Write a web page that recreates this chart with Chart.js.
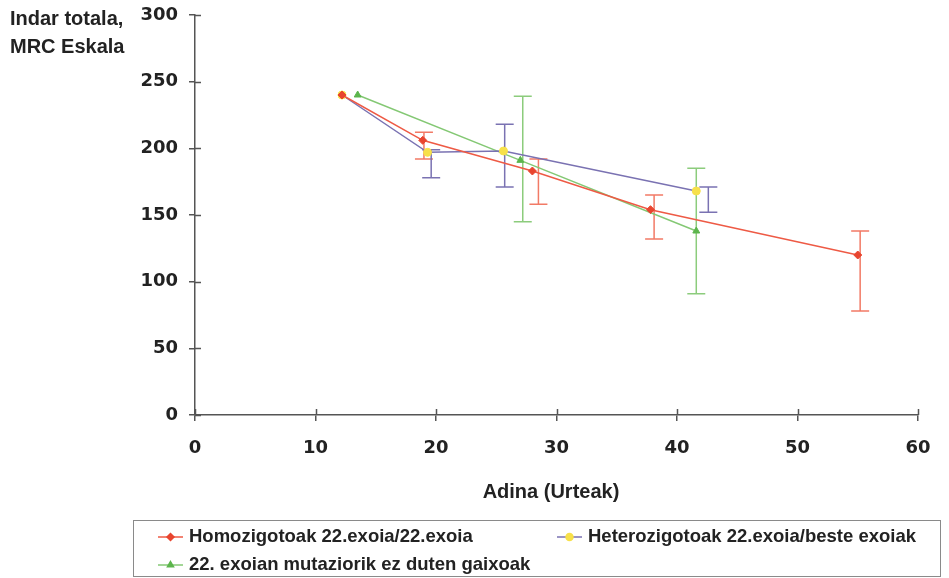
<!DOCTYPE html>
<html>
<head>
<meta charset="utf-8">
<script src="https://cdn.jsdelivr.net/npm/chart.js@4.4.1/dist/chart.umd.min.js"></script>
<style>
    html, body { margin: 0; padding: 0; background: #fff; }
    #wrap { width: 949px; height: 578px; position: relative; }
</style>
</head>
<body>
<div id="wrap"><canvas id="gene"></canvas></div>
<script>
// Data
var xTicks = [0, 10, 20, 30, 40, 50, 60];
var yTicks = [0, 50, 100, 150, 200, 250, 300];

var homoLabel = 'Homozigotoak 22.exoia/22.exoia';
var homoAge   = [12.2, 18.9, 28.0, 37.8, 55.0];
var homoVal   = [240, 206, 183, 154, 120];
var homoErrX  = [null, 19.0, 28.5, 38.1, 55.2];
var homoLow   = [null, 192, 158, 132, 78];
var homoHigh  = [null, 212, 192, 165, 138];

var heteroLabel = 'Heterozigotoak 22.exoia/beste exoiak';
var heteroAge   = [12.2, 19.3, 25.6, 41.6];
var heteroVal   = [240, 197, 198, 168];
var heteroErrX  = [null, 19.6, 25.7, 42.6];
var heteroLow   = [null, 178, 171, 152];
var heteroHigh  = [null, 199, 218, 171];

var noneLabel = '22. exoian mutaziorik ez duten gaixoak';
var noneAge   = [13.5, 27.0, 41.6];
var noneVal   = [240, 191, 138];
var noneErrX  = [null, 27.2, 41.6];
var noneLow   = [null, 145, 91];
var noneHigh  = [null, 239, 185];

var SANS = '"Liberation Sans", Arial, sans-serif';
var TITLE_FONT = 'bold 20px ' + SANS;
var LEGEND_FONT = 'bold 18.5px ' + SANS;
var TICK_FONT = { size: 18, weight: 'bold', family: '"DejaVu Sans", sans-serif' };
var TXT = '#222';
var AXIS = '#555';

function pts(xs, ys) {
    return xs.map(function (x, i) { return { x: x, y: ys[i] }; });
}

var series = [
    { label: homoLabel, data: pts(homoAge, homoVal), line: '#ee5a45', err: '#f27a66',
      marker: 'rectRot', fill: '#e8452f', errX: homoErrX, low: homoLow, high: homoHigh },
    { label: heteroLabel, data: pts(heteroAge, heteroVal), line: '#7a72b2', err: '#7a72b2',
      marker: 'circle', fill: '#f7e04a', errX: heteroErrX, low: heteroLow, high: heteroHigh },
    { label: noneLabel, data: pts(noneAge, noneVal), line: '#84c874', err: '#8ccc7c',
      marker: 'triangle', fill: '#5cb54c', errX: noneErrX, low: noneLow, high: noneHigh }
];

// error bars with caps
var errorBars = {
    id: 'errorBars',
    beforeDatasetsDraw: function (chart) {
        var ctx = chart.ctx, xs = chart.scales.x, ys = chart.scales.y;
        ctx.save();
        ctx.lineWidth = 1.5;
        series.forEach(function (s) {
            ctx.strokeStyle = s.err;
            s.errX.forEach(function (ex, i) {
                if (ex === null) return;
                var px = xs.getPixelForValue(ex);
                var top = ys.getPixelForValue(s.high[i]);
                var bot = ys.getPixelForValue(s.low[i]);
                ctx.beginPath();
                ctx.moveTo(px, top); ctx.lineTo(px, bot);
                ctx.moveTo(px - 9, top); ctx.lineTo(px + 9, top);
                ctx.moveTo(px - 9, bot); ctx.lineTo(px + 9, bot);
                ctx.stroke();
            });
        });
        ctx.restore();
    }
};

// inner half of the tick marks, titles and boxed legend
var decorations = {
    id: 'decorations',
    afterDraw: function (chart) {
        var ctx = chart.ctx, xs = chart.scales.x, ys = chart.scales.y;
        var a = chart.chartArea;
        ctx.save();
        ctx.strokeStyle = AXIS;
        ctx.lineWidth = 1.5;
        ctx.beginPath();
        xTicks.forEach(function (v) {
            var px = Math.round(xs.getPixelForValue(v)) + 0.5;
            ctx.moveTo(px, a.bottom); ctx.lineTo(px, a.bottom - 6);
        });
        yTicks.forEach(function (v) {
            var py = Math.round(ys.getPixelForValue(v)) + 0.5;
            ctx.moveTo(a.left, py); ctx.lineTo(a.left + 6, py);
        });
        ctx.stroke();

        ctx.fillStyle = TXT;
        ctx.font = TITLE_FONT;
        ctx.textBaseline = 'middle';
        ctx.textAlign = 'left';
        ctx.fillText('Indar totala,', 10, 19);
        ctx.fillText('MRC Eskala', 10, 47);
        ctx.textAlign = 'center';
        ctx.fillText('Adina (Urteak)', 551, 492);

        // legend box
        ctx.strokeStyle = '#8a8a8a';
        ctx.lineWidth = 1;
        ctx.strokeRect(133.5, 520.5, 807, 56);
        ctx.font = LEGEND_FONT;
        var spots = [[158, 537], [557, 537], [158, 565]];
        series.forEach(function (s, i) {
            var x = spots[i][0], y = spots[i][1];
            ctx.strokeStyle = s.line;
            ctx.lineWidth = 1.5;
            ctx.beginPath();
            ctx.moveTo(x, y); ctx.lineTo(x + 25, y);
            ctx.stroke();
            ctx.fillStyle = s.fill;
            ctx.strokeStyle = s.fill;
            Chart.helpers.drawPoint(ctx, { pointStyle: s.marker, radius: 3.5, borderWidth: 1 }, x + 12.5, y);
            ctx.fillStyle = TXT;
            ctx.textAlign = 'left';
            ctx.fillText(s.label, x + 31, y);
        });
        ctx.restore();
    }
};

new Chart(document.getElementById('gene'), {
    type: 'scatter',
    data: {
        datasets: series.map(function (s) {
            return {
                label: s.label,
                data: s.data,
                showLine: true,
                borderColor: s.line,
                borderWidth: 1.5,
                pointStyle: s.marker,
                pointRadius: 4,
                pointBackgroundColor: s.fill,
                pointBorderColor: s.fill,
                pointBorderWidth: 1
            };
        })
    },
    options: {
        responsive: true,
        maintainAspectRatio: false,
        animation: false,
        layout: { padding: { left: 0, top: 15, right: 31, bottom: 0 } },
        plugins: { legend: { display: false }, tooltip: { enabled: false } },
        scales: {
            x: {
                type: 'linear',
                min: 0, max: 60,
                afterBuildTicks: function (axis) {
                    axis.ticks = xTicks.map(function (v) { return { value: v }; });
                },
                afterFit: function (scale) {
                    scale.height = 163;
                    scale.paddingLeft = 0;
                    scale.paddingRight = 0;
                },
                grid: { drawOnChartArea: false, drawTicks: true, tickLength: 6, color: AXIS, lineWidth: 1.5 },
                border: { color: AXIS, width: 1.5 },
                ticks: { color: TXT, font: TICK_FONT, padding: 17, maxRotation: 0 }
            },
            y: {
                min: 0, max: 300,
                afterBuildTicks: function (axis) {
                    axis.ticks = yTicks.map(function (v) { return { value: v }; });
                },
                afterFit: function (scale) {
                    scale.width = 195;
                    scale.paddingTop = 0;
                    scale.paddingBottom = 0;
                },
                grid: { drawOnChartArea: false, drawTicks: true, tickLength: 6, color: AXIS, lineWidth: 1.5 },
                border: { color: AXIS, width: 1.5 },
                ticks: { color: TXT, font: TICK_FONT, padding: 11 }
            }
        }
    },
    plugins: [errorBars, decorations]
});
</script>
</body>
</html>
